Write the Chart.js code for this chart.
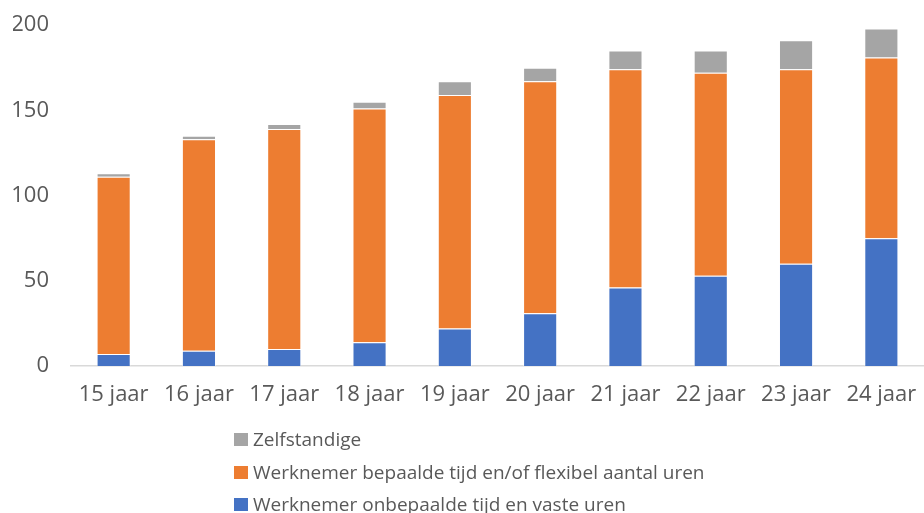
<!DOCTYPE html>
<html>
<head>
<meta charset="utf-8">
<script src="https://cdn.jsdelivr.net/npm/chart.js@4"></script>
<style>
  html, body { margin: 0; padding: 0; background: #fff; }
  #wrap { position: relative; width: 924px; height: 513px; }
  #legend { position: absolute; left: 234px; top: 423px; font-family: "Open Sans", sans-serif; font-size: 19px; color: #595959; }
  #legend div { height: 32.5px; line-height: 32.5px; white-space: nowrap; }
  #legend span.box { display: inline-block; width: 14px; height: 13px; margin-right: 5px; vertical-align: middle; position: relative; top: -1px; }
</style>
</head>
<body>
<div id="wrap">
  <canvas id="c" width="924" height="513"></canvas>
  <div id="legend"></div>
</div>
<script>
const categories = ["15 jaar", "16 jaar", "17 jaar", "18 jaar", "19 jaar", "20 jaar", "21 jaar", "22 jaar", "23 jaar", "24 jaar"];
const vast = [7, 9, 10, 14, 22, 31, 46, 53, 60, 75];
const flexibel = [104, 124, 129, 137, 137, 136, 128, 119, 114, 106];
const zelfstandig = [2, 2, 3, 4, 8, 8, 11, 13, 17, 17];
const seriesNames = ["Werknemer onbepaalde tijd en vaste uren", "Werknemer bepaalde tijd en/of flexibel aantal uren", "Zelfstandige"];
const yTicks = [0, 50, 100, 150, 200];
const colors = ["#4472C4", "#ED7D31", "#A5A5A5"];

const font = { family: "Open Sans", size: 22 };
const chart = new Chart(document.getElementById("c"), {
  type: "bar",
  data: {
    labels: categories,
    datasets: [vast, flexibel, zelfstandig].map((d, i) => ({
      label: seriesNames[i],
      data: d,
      backgroundColor: colors[i],
      borderColor: "rgba(255,255,255,0.45)",
      borderWidth: 1,
      barPercentage: 0.4,
      categoryPercentage: 1.0
    }))
  },
  options: {
    responsive: false,
    animation: false,
    layout: { padding: { left: 13, right: 0, top: 25, bottom: 77 } },
    plugins: { legend: { display: false }, tooltip: { enabled: false } },
    scales: {
      x: {
        stacked: true,
        grid: { display: false, drawTicks: false },
        border: { display: true, color: "#D9D9D9", width: 1.5 },
        ticks: { color: "#595959", font: font, padding: 16 },
        afterFit: (s) => { s.height = 70; s.paddingLeft = 0; s.paddingRight = 0; }
      },
      y: {
        stacked: true,
        min: 0, max: 200,
        afterBuildTicks: (s) => { s.ticks = yTicks.map(v => ({ value: v })); },
        grid: { display: false, drawTicks: false },
        border: { display: false },
        ticks: { color: "#595959", font: font, padding: 22 },
        afterFit: (s) => { s.width = 58; s.paddingTop = 0; s.paddingBottom = 0; }
      }
    }
  }
});

const legend = document.getElementById("legend");
for (let i = seriesNames.length - 1; i >= 0; i--) {
  const row = document.createElement("div");
  const box = document.createElement("span");
  box.className = "box";
  box.style.background = colors[i];
  row.appendChild(box);
  row.appendChild(document.createTextNode(seriesNames[i]));
  legend.appendChild(row);
}
</script>
</body>
</html>
